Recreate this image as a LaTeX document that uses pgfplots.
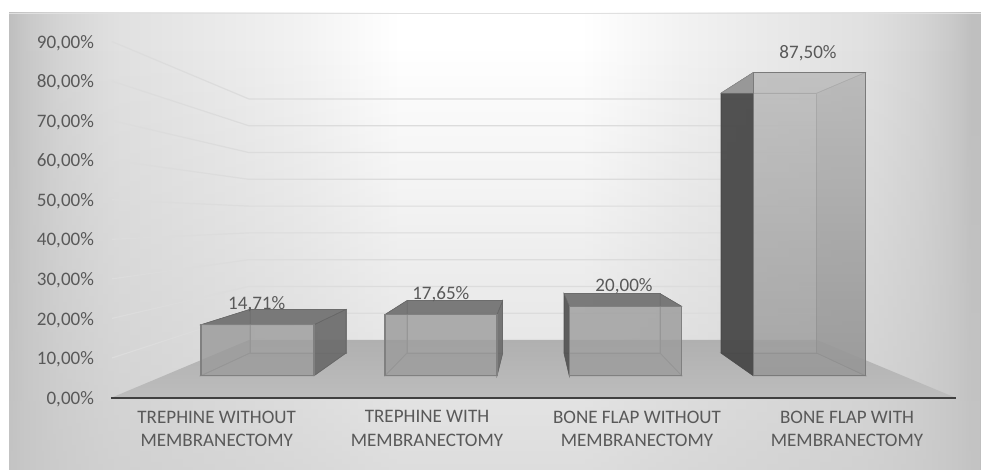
\documentclass[border=0pt]{standalone}
\usepackage{fontspec}
\setmainfont{Carlito}
\usepackage{pgfplots}
\usetikzlibrary{fadings}
\pgfplotsset{compat=1.18}

% 1 px of the reference = 0.75pt; y axis unit = wall percent at the left
\pgfdeclarehorizontalshading{chartbg}{100bp}{
  color(0bp)=(black!25); color(25.5bp)=(black!25); color(26.5bp)=(black!21); color(28bp)=(black!17);
  color(30bp)=(black!13.5); color(31bp)=(black!12); color(37.2bp)=(black!7.5); color(40.3bp)=(black!5);
  color(45.4bp)=(white); color(54.6bp)=(white); color(59.7bp)=(black!5); color(62.8bp)=(black!7.5);
  color(69bp)=(black!12); color(70bp)=(black!13.5); color(72bp)=(black!17); color(73.5bp)=(black!21);
  color(74.5bp)=(black!25); color(100bp)=(black!25)}
\tikzfading[name=bgfade,top color=transparent!100,bottom color=transparent!40]

\definecolor{txt}{HTML}{595959}
\definecolor{gridc}{HTML}{DCDCDC}

% front and back heights of a value, in axis units
\newcommand{\setheights}[1]{%
  \pgfmathsetmacro{\ft}{5.512+0.8761*#1}%
  \pgfmathsetmacro{\bt}{11.25+0.7509*#1}%
}
\def\fb{5.512}
\def\bb{11.25}

% value, front left, front right, back left, back right, left style, right style, top style, front style
\newcommand{\boxbar}[9]{%
  \setheights{#1}%
  \addplot[draw=edgec,line width=0.6pt,fill=black!30,fill opacity=0.35] coordinates {(#4,\bb) (#5,\bb) (#5,\bt) (#4,\bt)} --cycle;
  \addplot[draw=edgec,line width=0.6pt,fill=black!45,fill opacity=0.35] coordinates {(#2,\fb) (#3,\fb) (#5,\bb) (#4,\bb)} --cycle;
  \addplot[#6] coordinates {(#2,\fb) (#4,\bb) (#4,\bt) (#2,\ft)} --cycle;
  \addplot[#7] coordinates {(#3,\fb) (#5,\bb) (#5,\bt) (#3,\ft)} --cycle;
  \addplot[#8] coordinates {(#2,\ft) (#3,\ft) (#5,\bt) (#4,\bt)} --cycle;
  \addplot[#9] coordinates {(#2,\fb) (#3,\fb) (#3,\ft) (#2,\ft)} --cycle;
}
\colorlet{edgec}{black!50}

\begin{document}
\begin{tikzpicture}
\useasboundingbox (0,0) rectangle (735.75pt,352.5pt);
\begin{scope}
  \clip (6.75pt,0) rectangle (735.75pt,342.75pt);
  \fill[shading=chartbg] (0,0) rectangle (735.75pt,342.75pt);
  \fill[black!22,path fading=bgfade] (0,0) rectangle (735.75pt,315pt);
\end{scope}
\draw[black!12,line width=0.6pt] (6.75pt,342.75pt) -- (735.75pt,342.75pt);
\begin{axis}[
  at={(0,0)}, anchor=south west,
  scale only axis,
  width=735.75pt,
  height=352.5pt,
  xmin=0, xmax=981,
  ymin=-18.33, ymax=100.51,
  axis line style={draw=none},
  major tick length=0pt,
  ytick={0,10,...,90},
  yticklabel={\pgfmathprintnumber[fixed,fixed zerofill,precision=2,use comma,assume math mode=true]{\tick}\%},
  yticklabel style={anchor=east,xshift=74pt,yshift=-1pt},
  xtick={216.7,427,637,847},
  xticklabels={{TREPHINE WITHOUT\\MEMBRANECTOMY},{TREPHINE WITH\\MEMBRANECTOMY},{BONE FLAP WITHOUT\\MEMBRANECTOMY},{BONE FLAP WITH\\MEMBRANECTOMY}},
  xticklabel style={align=center,anchor=north,yshift=48pt},
  tick label style={text=txt,font=\fontsize{14.3}{17.6}\selectfont},
]
  % floor
  \addplot[top color=black!31,bottom color=black!26,draw=none] coordinates {(112,0) (955,0) (817,14.54) (249,14.54)} --cycle;

  % side and back wall gridlines
  \addplot[gridc,line width=0.9pt] coordinates {(112,10) (249,21.31) (817,21.31)};
  \addplot[gridc,line width=0.9pt] coordinates {(112,20) (249,28.08) (817,28.08)};
  \addplot[gridc,line width=0.9pt] coordinates {(112,30) (249,34.85) (817,34.85)};
  \addplot[gridc,line width=0.9pt] coordinates {(112,40) (249,41.62) (817,41.62)};
  \addplot[gridc,line width=0.9pt] coordinates {(112,50) (249,48.39) (817,48.39)};
  \addplot[gridc,line width=0.9pt] coordinates {(112,60) (249,55.16) (817,55.16)};
  \addplot[gridc,line width=0.9pt] coordinates {(112,70) (249,61.93) (817,61.93)};
  \addplot[gridc,line width=0.9pt] coordinates {(112,80) (249,68.70) (817,68.70)};
  \addplot[gridc,line width=0.9pt] coordinates {(112,90) (249,75.47) (817,75.47)};

  % value labels
  \addplot[draw=none,mark=none,point meta=explicit,
    nodes near coords={\pgfmathprintnumber[fixed,fixed zerofill,precision=2,use comma,assume math mode=true]{\pgfplotspointmeta}\%},
    nodes near coords align={center},
    every node near coord/.append style={text=txt,font=\fontsize{14.3}{17}\selectfont,inner sep=0pt},
  ] coordinates {
    (256.7,23.63) [14.71]
    (440.8,26.19) [17.65]
    (624,28.21) [20.00]
    (808,87.10) [87.50]
  };

  \boxbar{14.71}{201}{314}{250}{346}
    {draw=edgec,fill=black!50,fill opacity=0.3}
    {draw=black!60,fill=black!58,fill opacity=0.9}
    {draw=black!60,fill=black!56,fill opacity=0.9}
    {draw=black!50,line width=0.8pt,fill=black!38,fill opacity=0.75}
  \boxbar{17.65}{385}{497}{407}{502.7}
    {draw=edgec,fill=black!50,fill opacity=0.3}
    {draw=black!60,fill=black!58,fill opacity=0.9}
    {draw=black!60,fill=black!56,fill opacity=0.9}
    {draw=black!50,line width=0.8pt,fill=black!38,fill opacity=0.75}
  \boxbar{20.00}{569.3}{681.7}{564}{660}
    {draw=black!65,fill=black!68,fill opacity=0.9}
    {draw=edgec,fill=black!45,fill opacity=0.3}
    {draw=black!60,fill=black!56,fill opacity=0.9}
    {draw=black!50,line width=0.8pt,fill=black!38,fill opacity=0.75}
  \boxbar{87.50}{753.3}{865.3}{721}{816.7}
    {draw=black!70,fill=black!72,fill opacity=0.93}
    {draw=black!50,top color=black!32,bottom color=black!42,fill opacity=0.7}
    {draw=black!45,fill=black!22,fill opacity=0.6}
    {draw=black!52,line width=0.9pt,top color=black!27,bottom color=black!41,fill opacity=0.7}

  % baseline
  \addplot[draw=black!75,line width=1.5pt] coordinates {(111,0) (956,0)};
\end{axis}
\end{tikzpicture}
\end{document}
